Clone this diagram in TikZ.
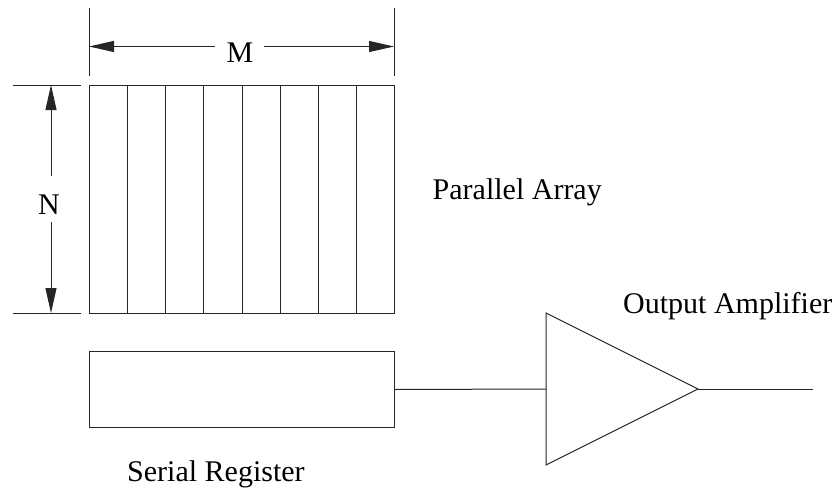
\documentclass[tikz,border=0pt]{standalone}
\usepackage{fontspec}
\setmainfont{Liberation Serif}
\usetikzlibrary{arrows.meta,calc}
\begin{document}
\begin{tikzpicture}[x=1pt,y=-1pt,
  wire/.style={line width=1pt,draw=black!85},
  dim/.style={line width=1pt,draw=black!85,-{Triangle[length=25pt,width=11pt]}},
  lbl/.style={font=\fontsize{30}{36}\selectfont,inner sep=0pt,anchor=base}]
\useasboundingbox (0,0) rectangle (840,487);

% parallel array with its eight columns
\node[wire,draw,rectangle,minimum width=305pt,minimum height=228pt,inner sep=0pt,anchor=north west] (pa) at (89,85) {};
\foreach \i in {1,...,7}
  \draw[wire] ($(pa.north west)!\i/8!(pa.north east)$) -- ($(pa.south west)!\i/8!(pa.south east)$);

% serial register
\node[wire,draw,rectangle,minimum width=305pt,minimum height=76pt,inner sep=0pt,anchor=north west] (sr) at (89,351) {};

% output amplifier
\coordinate (ampin) at (546,389);
\coordinate (amptop) at (546,313);
\coordinate (ampbot) at (546,465);
\coordinate (ampout) at (698,389);
\coordinate (outend) at (813,389);
\draw[wire,line join=miter] (amptop) -- (ampout) -- (ampbot) -- cycle;
\draw[wire] (sr.east) -- (ampin);
\draw[wire] (ampout) -- (outend);

% width dimension M
\coordinate (mlt) at (89,8);
\coordinate (mlb) at (89,76);
\coordinate (mrt) at (394,8);
\coordinate (mrb) at (394,76);
\draw[wire] (mlt) -- (mlb);
\draw[wire] (mrt) -- (mrb);
\node[lbl] (m) at (240,62.5) {M};
\coordinate (ml) at (89,46.5);
\coordinate (mr) at (394,46.5);
\coordinate (mgl) at (215,46.5);
\coordinate (mgr) at (264,46.5);
\draw[dim] (mgl) -- (ml);
\draw[dim] (mgr) -- (mr);

% height dimension N
\coordinate (ntl) at (13,85);
\coordinate (ntr) at (81,85);
\coordinate (nbl) at (13,313);
\coordinate (nbr) at (81,313);
\draw[wire] (ntl) -- (ntr);
\draw[wire] (nbl) -- (nbr);
\node[lbl] (n) at (49,214) {N};
\coordinate (nt) at (51,85);
\coordinate (nb) at (51,313);
\coordinate (ngt) at (51,176);
\coordinate (ngb) at (51,222);
\draw[dim] (ngt) -- (nt);
\draw[dim] (ngb) -- (nb);

% labels
\node[lbl,anchor=base west] (palbl) at (432.5,199) {Parallel Array};
\node[lbl,anchor=base west] (amplbl) at (623,313) {Output Amplifier};
\node[lbl,anchor=base west] (srlbl) at (127,481.5) {Serial Register};
\end{tikzpicture}
\end{document}
